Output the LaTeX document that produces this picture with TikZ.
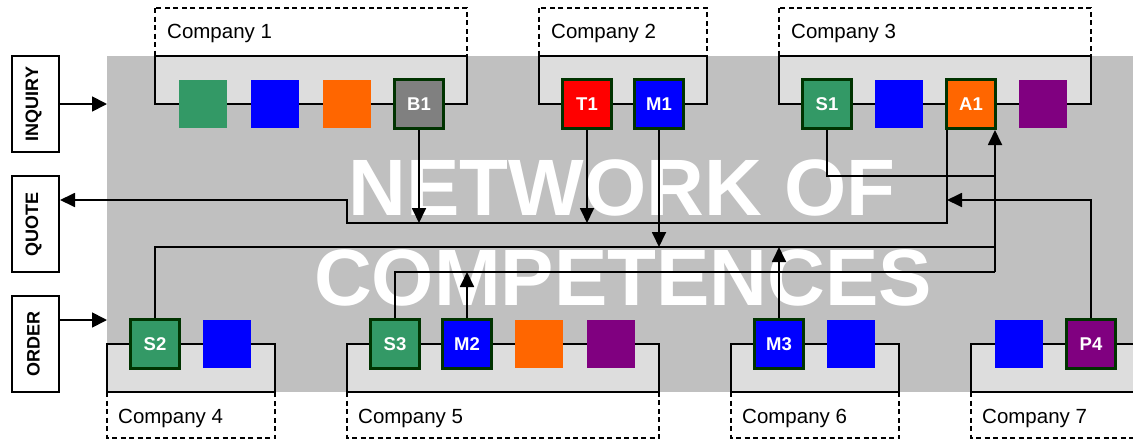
\documentclass[tikz,border=0pt]{standalone}
\usepackage{fontspec}
\setmainfont{Liberation Sans}
\usetikzlibrary{arrows.meta}
\definecolor{netgray}{HTML}{C0C0C0}
\definecolor{boxgray}{HTML}{DDDDDD}
\definecolor{sgreen}{HTML}{339966}
\definecolor{sblue}{HTML}{0000FF}
\definecolor{sorange}{HTML}{FF6600}
\definecolor{spurple}{HTML}{800080}
\definecolor{sred}{HTML}{FF0000}
\definecolor{sgrey}{HTML}{808080}
\definecolor{edgegreen}{HTML}{003300}

\begin{document}
\begin{tikzpicture}[x=1pt,y=-1pt,
  plain/.style={minimum size=48pt, inner sep=0pt, outer sep=0pt},
  tagged/.style={minimum size=49pt, inner sep=0pt, draw=edgegreen, line width=3pt,
    text=white, font=\fontsize{18.5}{18.5}\selectfont\bfseries},
  frame/.style={draw=black, line width=2pt, fill=boxgray},
  namebox/.style={draw=black, line width=2pt, dash pattern=on 5pt off 3.5pt},
  cname/.style={anchor=base west, inner sep=0pt, font=\fontsize{20.5}{20.5}\selectfont},
  phase/.style={draw=black, line width=2pt, fill=white, minimum width=47pt,
    minimum height=96pt, inner sep=0pt},
  phasetext/.style={rotate=90, inner sep=0pt, font=\fontsize{18}{18}\selectfont\bfseries},
  conn/.style={draw=black, line width=1.8pt},
  arr/.style={conn, -{Triangle[length=15pt,width=14pt]}},
  bigarr/.style={conn, -{Triangle[length=15pt,width=15pt]}},
  bigtext/.style={text=white, font=\fontsize{80}{80}\selectfont\bfseries, anchor=base, inner sep=0pt},
]
\useasboundingbox (0,0) rectangle (1133,442);
\begin{scope}
\clip (0,0) rectangle (1133,442);

% shared network area
\node[fill=netgray, minimum width=1026pt, minimum height=336pt, anchor=north west,
  inner sep=0pt, outer sep=0pt] (network) at (107,56) {};

% company frames: dashed name part and solid competence part
\draw[namebox] (155,8) rectangle (467,56);
\draw[frame] (155,56) rectangle (467,104);
\draw[namebox] (539,8) rectangle (707,56);
\draw[frame] (539,56) rectangle (707,104);
\draw[namebox] (779,8) rectangle (1091,56);
\draw[frame] (779,56) rectangle (1091,104);

\draw[frame] (107,344) rectangle (275,392);
\draw[namebox] (107,392) rectangle (275,438);
\draw[frame] (347,344) rectangle (659,392);
\draw[namebox] (347,392) rectangle (659,438);
\draw[frame] (731,344) rectangle (899,392);
\draw[namebox] (731,392) rectangle (899,438);
\draw[frame] (971,344) rectangle (1139,392);
\draw[namebox] (971,392) rectangle (1139,438);

\node[cname] (n1) at (167,38) {Company 1};
\node[cname] (n2) at (551,38) {Company 2};
\node[cname] (n3) at (791,38) {Company 3};
\node[cname] (n4) at (118,423) {Company 4};
\node[cname] (n5) at (358,423) {Company 5};
\node[cname] (n6) at (742,423) {Company 6};
\node[cname] (n7) at (982,423) {Company 7};

% title in the network area
\node[bigtext] (title1) at (622,215) {NETWORK OF};
\node[bigtext] (title2) at (623,305) {COMPETENCES};

% competences of the companies
\node[plain, fill=sgreen]  (c1a) at (203,104) {};
\node[plain, fill=sblue]   (c1b) at (275,104) {};
\node[plain, fill=sorange] (c1c) at (347,104) {};
\node[tagged, fill=sgrey]  (B1)  at (419,104) {B1};

\node[tagged, fill=sred]   (T1)  at (587,104) {T1};
\node[tagged, fill=sblue]  (M1)  at (659,104) {M1};

\node[tagged, fill=sgreen] (S1)  at (827,104) {S1};
\node[plain, fill=sblue]   (c3b) at (899,104) {};
\node[tagged, fill=sorange](A1)  at (971,104) {A1};
\node[plain, fill=spurple] (c3d) at (1043,104) {};

\node[tagged, fill=sgreen] (S2)  at (155,344) {S2};
\node[plain, fill=sblue]   (c4b) at (227,344) {};

\node[tagged, fill=sgreen] (S3)  at (395,344) {S3};
\node[tagged, fill=sblue]  (M2)  at (467,344) {M2};
\node[plain, fill=sorange] (c5c) at (539,344) {};
\node[plain, fill=spurple] (c5d) at (611,344) {};

\node[tagged, fill=sblue]  (M3)  at (779,344) {M3};
\node[plain, fill=sblue]   (c6b) at (851,344) {};

\node[plain, fill=sblue]   (c7a) at (1019,344) {};
\node[tagged, fill=spurple](P4)  at (1091,344) {P4};

% process phases
\node[phase] (inquiry) at (35.5,104) {};
\node[phasetext] (inquirylbl) at ([xshift=-2pt]inquiry.center) {INQUIRY};
\node[phase] (quote) at (35.5,224) {};
\node[phasetext] (quotelbl) at ([xshift=-2pt]quote.center) {QUOTE};
\node[phase] (order) at (35.5,344) {};
\node[phasetext] (orderlbl) at ([xshift=-2pt]order.center) {ORDER};

% bus points
\coordinate (qbusR) at (947,223);
\coordinate (qbusL) at (347,223);
\coordinate (qturn) at (347,200);
\coordinate (pturn) at (947,200);
\coordinate (busA) at (995,176);
\coordinate (busB) at (995,247);
\coordinate (busC) at (995,272);

% connectors
\draw[bigarr] (inquiry.east) -- (inquiry.east -| network.west);
\draw[bigarr] ([yshift=24pt]order.east) -- ([yshift=24pt]order.east -| network.west);

\draw[arr] ([xshift=-24pt]A1.south) -- (qbusR) -- (qbusL) -- (qturn) -- (qturn -| quote.east);
\draw[arr] (B1.south) -- (B1.south |- qbusR);
\draw[arr] (T1.south) -- (T1.south |- qbusR);
\draw[arr] (P4.north) |- (pturn);

\draw[conn] (S1.south) |- (busA);
\draw[conn] (S2.north) |- (busB);
\draw[conn] (S3.north) |- (busC);
\draw[arr] (busC) -- ([xshift=24pt]A1.south);
\draw[arr] (M1.south) -- (M1.south |- busB);
\draw[arr] (M3.north) -- (M3.north |- busB);
\draw[arr] (M2.north) -- (M2.north |- busC);
\end{scope}
\end{tikzpicture}
\end{document}
